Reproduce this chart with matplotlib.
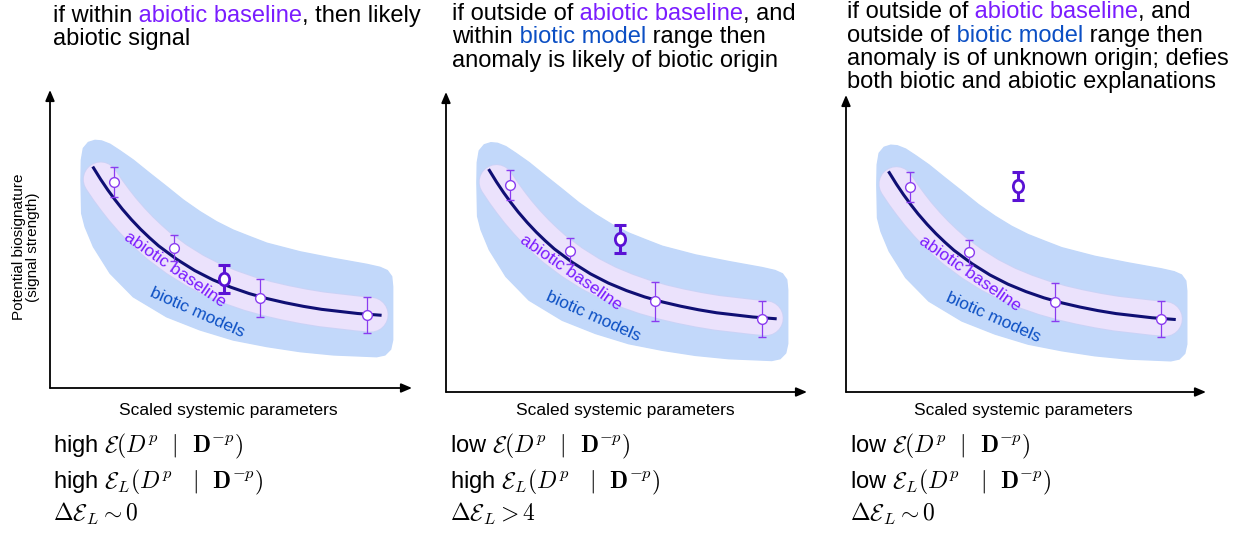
import numpy as np
import matplotlib
matplotlib.use('Agg')
import matplotlib.pyplot as plt
from matplotlib.patches import Polygon
from matplotlib.path import Path
from matplotlib.transforms import IdentityTransform, Affine2D

plt.rcParams['font.family'] = ['Liberation Sans', 'DejaVu Sans']
plt.rcParams['mathtext.fontset'] = 'cm'

W, H = 1247, 535

# abiotic baseline curve, axis units 0-10 on both axes
curve_x = [1.18, 1.4, 1.6, 1.8, 2.0, 2.25, 2.5, 2.75, 3.0, 3.5, 4.0, 4.5,
           5.0, 5.5, 6.0, 6.5, 7.0, 7.5, 8.0, 8.5, 9.16]
curve_y = [7.43, 7.00, 6.64, 6.31, 6.00, 5.65, 5.33, 5.04, 4.77, 4.32, 3.94,
           3.63, 3.38, 3.17, 3.00, 2.86, 2.74, 2.64, 2.57, 2.50, 2.44]

# spine of the lavender abiotic band
band_x = [1.4, 1.6, 1.8, 2.0, 2.25, 2.5, 2.75, 3.0, 3.5, 4.0, 4.5, 5.0,
          5.5, 6.0, 6.5, 7.0, 7.5, 8.0, 8.5, 8.86]
band_y = [7.00, 6.64, 6.31, 6.00, 5.65, 5.33, 5.04, 4.77, 4.32, 3.94, 3.63,
          3.38, 3.17, 3.00, 2.86, 2.74, 2.64, 2.57, 2.50, 2.46]

# outline of the biotic model envelope
envelope_x = [0.875, 0.856, 0.866, 0.921, 1.059, 1.243, 1.427, 1.657, 1.934,
              2.30, 2.76, 3.22, 3.68, 4.14, 4.60, 5.06, 5.52, 5.99, 6.91,
              7.83, 8.75, 9.116, 9.319, 9.438, 9.466, 9.466, 9.41, 9.254,
              9.024, 7.83, 6.91, 5.99, 5.06, 4.14, 3.22, 2.30, 1.66, 1.20,
              0.97]
envelope_y = [5.86, 6.98, 7.65, 8.04, 8.24, 8.31, 8.29, 8.18, 7.96,
              7.65, 7.20, 6.76, 6.31, 5.92, 5.58, 5.30, 5.08, 4.86, 4.57,
              4.35, 4.15, 4.05, 3.94, 3.74, 3.40, 1.61, 1.30, 1.11,
              1.05, 1.11, 1.22, 1.39, 1.61, 1.95, 2.39, 3.06, 3.85, 4.74,
              5.41]

# abiotic reference measurements
points_x = [1.77, 3.43, 5.80, 8.76]
points_y = [6.91, 4.70, 3.02, 2.45]
points_err = [0.50, 0.43, 0.64, 0.60]

# the observed anomaly in each panel
anomaly_x = [4.81, 4.81, 4.78]
anomaly_y = [3.66, 5.10, 6.94]
anomaly_err = [0.46, 0.46, 0.46]

K = 'black'
PURPLE = '#7a1cff'
BLUE_TXT = '#0b4fc4'

headers = [
    [[('if within', K), (' abiotic baseline', PURPLE), (', then likely', K)],
     [('abiotic signal', K)]],
    [[('if outside of', K), (' abiotic baseline', PURPLE), (', and', K)],
     [('within', K), (' biotic model', BLUE_TXT), (' range then', K)],
     [('anomaly is likely of biotic origin', K)]],
    [[('if outside of', K), (' abiotic baseline', PURPLE), (', and', K)],
     [('outside of', K), (' biotic model', BLUE_TXT), (' range then', K)],
     [('anomaly is of unknown origin; defies', K)],
     [('both biotic and abiotic explanations', K)]],
]
footers = [
    ['high $\\mathcal{E}(D^p\\ \\ |\\ \\ \\mathbf{D}^{-p})$',
     'high $\\mathcal{E}_L(D^p\\ \\ \\ |\\ \\ \\mathbf{D}^{-p})$',
     '$\\Delta\\mathcal{E}_L\\sim 0$'],
    ['low $\\mathcal{E}(D^p\\ \\ |\\ \\ \\mathbf{D}^{-p})$',
     'high $\\mathcal{E}_L(D^p\\ \\ \\ |\\ \\ \\mathbf{D}^{-p})$',
     '$\\Delta\\mathcal{E}_L > 4$'],
    ['low $\\mathcal{E}(D^p\\ \\ |\\ \\ \\mathbf{D}^{-p})$',
     'low $\\mathcal{E}_L(D^p\\ \\ \\ |\\ \\ \\mathbf{D}^{-p})$',
     '$\\Delta\\mathcal{E}_L\\sim 0$'],
]

# panel frames in pixels: origin x, arrow end x, origin y, arrow top y
frames = [(50, 412, 388, 90), (446, 807, 392, 92), (846, 1206, 392, 95)]
header_x = [53, 452, 847]
header_base = [[21.7, 45.0], [20.0, 43.3, 66.7], [18.3, 41.7, 65.0, 88.3]]
footer_x = [53, 450, 850]
footer_base = [452, 488, 521]
xlabel_x = [228, 625, 1023]

fig = plt.figure(figsize=(W / 100, H / 100), dpi=100)
renderer = fig.canvas.get_renderer()


def pixel_text(x, y, s, **kw):
    return fig.text(x, H - y, s, transform=IdentityTransform(), **kw)


def rich_line(x, y, parts, size):
    for s, c in parts:
        t = pixel_text(x, y, s, color=c, fontsize=size, va='baseline')
        x = t.get_window_extent(renderer).x1


# the anomaly marker is a slightly tall ellipse
tall_oval = Path.unit_circle().transformed(Affine2D().scale(0.82, 1.0))

arrow = dict(arrowstyle='-|>,head_length=0.4,head_width=0.17', color='k',
             lw=1.3, mutation_scale=16, shrinkA=0, shrinkB=0)

for i, (x0, x1, y0, y1) in enumerate(frames):
    ax = fig.add_axes([x0 / W, 1 - y0 / H, (x1 - x0) / W, (y0 - y1) / H])
    ax.set_xlim(0, 10)
    ax.set_ylim(0, 10)
    ax.axis('off')

    ax.add_patch(Polygon(np.column_stack([envelope_x, envelope_y]), closed=True,
                         fc='#c2d8fa', ec='#c2d8fa', lw=1, joinstyle='round'))
    ax.plot(band_x, band_y, color='#ccd2f6', lw=25.6,
            solid_capstyle='round', solid_joinstyle='round')
    ax.plot(band_x, band_y, color='#ebe2fc', lw=24.4,
            solid_capstyle='round', solid_joinstyle='round')
    ax.plot(curve_x, curve_y, color='#0f0f74', lw=2.2,
            solid_capstyle='butt', solid_joinstyle='round')

    ax.text(3.45, 3.98, 'abiotic baseline', color=PURPLE, fontsize=12.5,
            rotation=-34.8, rotation_mode='anchor', ha='center', va='center')
    ax.text(4.08, 2.52, 'biotic models', color=BLUE_TXT, fontsize=12.5,
            rotation=-24, rotation_mode='anchor', ha='center', va='center')

    ax.errorbar(points_x, points_y, yerr=points_err, fmt='o', ms=7,
                mfc='white', mec='#8a3cf0', mew=1.0, ecolor='#8a3cf0',
                elinewidth=0.9, capsize=2.6, capthick=0.9, clip_on=False)
    ax.errorbar([anomaly_x[i]], [anomaly_y[i]], yerr=[anomaly_err[i]],
                fmt='none', ecolor='#5a12d4', elinewidth=2.2, capsize=4.3,
                capthick=2.2, clip_on=False)
    ax.plot([anomaly_x[i]], [anomaly_y[i]], marker=tall_oval, ms=9,
            mfc='white', mec='#5a12d4', mew=2.0, ls='none', clip_on=False)

    ax.annotate('', xy=(10, 0), xytext=(0, 0), arrowprops=arrow,
                annotation_clip=False)
    ax.annotate('', xy=(0, 10), xytext=(0, 0), arrowprops=arrow,
                annotation_clip=False)

    pixel_text(xlabel_x[i], 411, 'Scaled systemic parameters', fontsize=12.5,
               ha='center', va='center')

    for line, yb in zip(headers[i], header_base[i]):
        rich_line(header_x[i], yb, line, 17)
    for s, yb in zip(footers[i], footer_base):
        pixel_text(footer_x[i], yb, s, fontsize=17, va='baseline')

pixel_text(26, 247, 'Potential biosignature\n(signal strength)', fontsize=11,
           rotation=90, ha='center', va='center', ma='center', linespacing=1.0)

fig.savefig('out.png', dpi=100)
